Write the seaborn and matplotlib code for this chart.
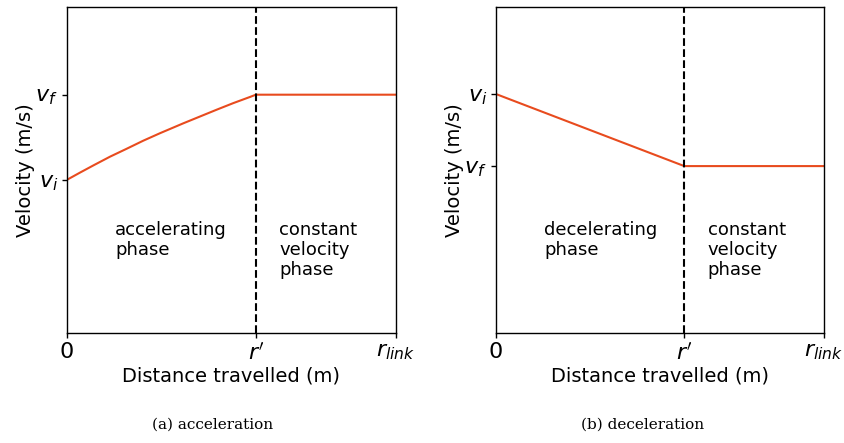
import matplotlib
matplotlib.use("Agg")
import matplotlib.pyplot as plt
import seaborn as sns
import pandas as pd

# Distance is normalised to the link length r_link, velocity to the axis height
r_prime = 0.574
r_link = 1.0

# Accelerating case: concave rise from v_i to v_f, then constant
acc_x = [0.0, 0.0395, 0.080, 0.131, 0.181, 0.232, 0.283, 0.353, 0.404, 0.455,
         0.505, 0.556, r_prime, r_link]
acc_v = [0.470, 0.492, 0.514, 0.541, 0.565, 0.590, 0.613, 0.643, 0.664, 0.685,
         0.705, 0.724, 0.731, 0.731]
acc_vi, acc_vf = 0.470, 0.731

# Decelerating case: linear drop from v_i to v_f, then constant
dec_x = [0.0, r_prime, r_link]
dec_v = [0.733, 0.512, 0.512]
dec_vi, dec_vf = 0.733, 0.512

x_ticks = [0.0, r_prime, r_link]
x_ticklabels = ["0", r"$r'$", r"$r_{link}$"]

sns.set_style("ticks")
plt.rcParams["font.family"] = ["DejaVu Sans"]
plt.rcParams["text.color"] = "black"
plt.rcParams["axes.labelcolor"] = "black"
plt.rcParams["xtick.color"] = "black"
plt.rcParams["ytick.color"] = "black"

fig = plt.figure(figsize=(8.45, 4.43), dpi=100)
ax_a = fig.add_axes([67 / 845, 110 / 443, 329 / 845, 326 / 443])
ax_b = fig.add_axes([496 / 845, 110 / 443, 328 / 845, 326 / 443])

line_color = "#e84b1e"

panels = [
    (ax_a, acc_x, acc_v, [acc_vi, acc_vf], [r"$v_i$", r"$v_f$"], "accelerating\nphase",
     "(a) acceleration"),
    (ax_b, dec_x, dec_v, [dec_vf, dec_vi], [r"$v_f$", r"$v_i$"], "decelerating\nphase",
     "(b) deceleration"),
]

for ax, xs, vs, yt, ytl, phase_text, caption in panels:
    df = pd.DataFrame({"distance": xs, "velocity": vs})
    sns.lineplot(data=df, x="distance", y="velocity", ax=ax, color=line_color,
                 linewidth=1.5, sort=False)
    ax.axvline(r_prime, color="black", linestyle="--", linewidth=1.5)
    ax.set_xlim(0, r_link)
    ax.set_ylim(0, 1)
    ax.set_xticks(x_ticks)
    ax.set_xticklabels(x_ticklabels, fontsize=16)
    ax.set_yticks(yt)
    ax.set_yticklabels(ytl, fontsize=16)
    ax.set_xlabel("Distance travelled (m)", fontsize=14, labelpad=2)
    ax.set_ylabel("Velocity (m/s)", fontsize=14, labelpad=0.5)
    for sp in ax.spines.values():
        sp.set_color("black")
        sp.set_linewidth(1.0)
    ax.tick_params(length=3.5, width=1.0, color="black", pad=3)
    ax.text(0.146, 0.345, phase_text, fontsize=13, va="top", ha="left",
            linespacing=1.15)
    ax.text(0.645, 0.345, "constant\nvelocity\nphase", fontsize=13, va="top",
            ha="left", linespacing=1.15)

fig.text(213 / 845, 1 - 425 / 443, "(a) acceleration", family="DejaVu Serif",
         fontsize=11, ha="center", va="center")
fig.text(643 / 845, 1 - 425 / 443, "(b) deceleration", family="DejaVu Serif",
         fontsize=11, ha="center", va="center")

fig.savefig("out.png", dpi=100)
